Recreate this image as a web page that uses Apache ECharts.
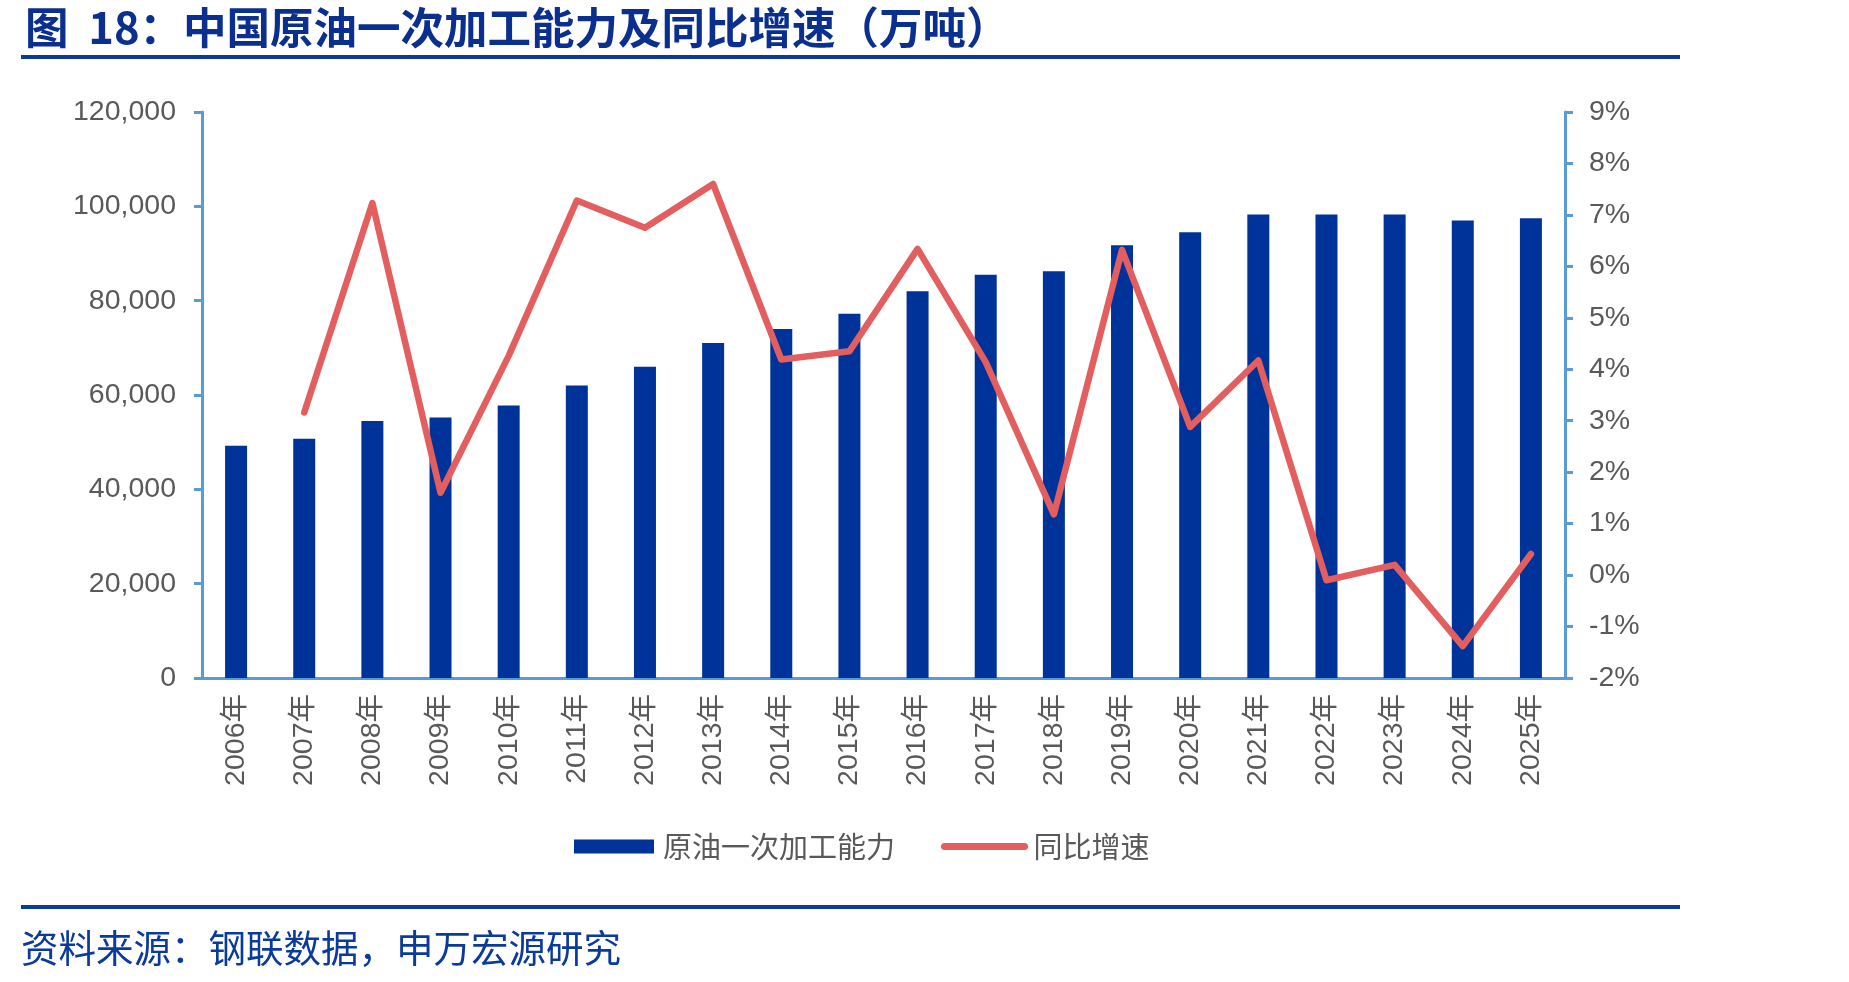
<!DOCTYPE html>
<html>
  <head>
    <meta charset="utf-8" />
    <title>中国原油一次加工能力及同比增速</title>
    <script src="https://cdn.jsdelivr.net/npm/echarts@6/dist/echarts.min.js"></script>
    <style>
      html, body { margin: 0; padding: 0; background: #fff; }
      #main { width: 1849px; height: 982px; }
    </style>
  </head>
  <body>
    <div id="main"></div>
    <script type="text/javascript">
      // 年份
      var years = ["2006年", "2007年", "2008年", "2009年", "2010年", "2011年", "2012年",
        "2013年", "2014年", "2015年", "2016年", "2017年", "2018年", "2019年", "2020年",
        "2021年", "2022年", "2023年", "2024年", "2025年"];
      // 原油一次加工能力（万吨）
      var capacity = [49250, 50750, 54500, 55250, 57750, 62000, 66000, 71000, 74000, 77250,
        82000, 85500, 86250, 91750, 94500, 98250, 98250, 98250, 97000, 97500];
      // 同比增速（%），2006年无数据
      var growth = [null, 3.16, 7.23, 1.6, 4.26, 7.28, 6.75, 7.6, 4.19, 4.35,
        6.34, 4.14, 1.18, 6.32, 2.88, 4.17, -0.1, 0.2, -1.38, 0.41];

      var axisBlue = "#5b9bd5";
      var labelGray = "#595959";
      var lineRed = "#e35e5f";
      var cjk = "'Liberation Sans', Arial, 'Noto Sans CJK SC', sans-serif";

      var chart = echarts.init(document.getElementById("main"));
      var option = {
        animation: false,
        textStyle: { fontFamily: cjk },
        title: {
          text: "图  18：中国原油一次加工能力及同比增速（万吨）",
          left: 20,
          top: 1,
          textStyle: {
            color: "#0a2f8f",
            fontSize: 43.5,
            fontWeight: "bold",
            fontFamily: "'Noto Sans CJK SC', 'Liberation Sans', sans-serif"
          }
        },
        graphic: [
          {
            type: "rect",
            shape: { x: 21, y: 55, width: 1659, height: 4 },
            style: { fill: "#0a3a9a" }
          },
          {
            type: "rect",
            shape: { x: 21, y: 905, width: 1659, height: 4 },
            style: { fill: "#0a3a9a" }
          },
          {
            type: "text",
            left: 21,
            top: 929,
            style: {
              text: "资料来源：钢联数据，申万宏源研究",
              fill: "#0a3a9a",
              fontSize: 37.5,
              fontFamily: "'Noto Sans CJK SC', sans-serif"
            }
          }
        ],
        legend: {
          left: 569,
          top: 827,
          itemWidth: 80,
          itemHeight: 14,
          itemGap: 46,
          textStyle: { color: labelGray, fontSize: 29, fontFamily: "'Noto Sans CJK SC', sans-serif", padding: [0, 0, 0, 4] },
          data: [
            { name: "原油一次加工能力", icon: "rect" },
            {
              name: "同比增速",
              itemStyle: { opacity: 0 },
              lineStyle: { width: 7, color: lineRed, cap: "round" }
            }
          ]
        },
        grid: {
          left: 202,
          right: 284,
          top: 112,
          bottom: 304
        },
        xAxis: {
          type: "category",
          data: years,
          axisLine: { lineStyle: { color: axisBlue, width: 3 } },
          axisTick: { alignWithLabel: false, length: 8, lineStyle: { color: axisBlue, width: 3 } },
          axisLabel: {
            rotate: 90,
            color: labelGray,
            fontSize: 28.5,
            margin: 16
          }
        },
        yAxis: [
          {
            type: "value",
            min: 0,
            max: 120000,
            interval: 20000,
            splitLine: { show: false },
            axisLine: { show: true, lineStyle: { color: axisBlue, width: 3 } },
            axisTick: { show: true, length: 8, lineStyle: { color: axisBlue, width: 3 } },
            axisLabel: {
              color: labelGray,
              fontSize: 28.5,
              margin: 26,
              formatter: function (v) { return v.toLocaleString("en-US"); }
            }
          },
          {
            type: "value",
            min: -2,
            max: 9,
            interval: 1,
            position: "right",
            splitLine: { show: false },
            axisLine: { show: true, lineStyle: { color: axisBlue, width: 3 } },
            axisTick: { show: true, length: 8, lineStyle: { color: axisBlue, width: 3 } },
            axisLabel: {
              color: labelGray,
              fontSize: 28.5,
              margin: 24,
              formatter: "{value}%"
            }
          }
        ],
        series: [
          {
            name: "原油一次加工能力",
            type: "bar",
            data: capacity,
            barWidth: 22,
            itemStyle: { color: "#003399" }
          },
          {
            name: "同比增速",
            type: "line",
            yAxisIndex: 1,
            data: growth,
            symbol: "none",
            lineStyle: { color: lineRed, width: 6.5, cap: "round", join: "round" },
            itemStyle: { color: lineRed }
          }
        ]
      };
      chart.setOption(option);
    </script>
  </body>
</html>
